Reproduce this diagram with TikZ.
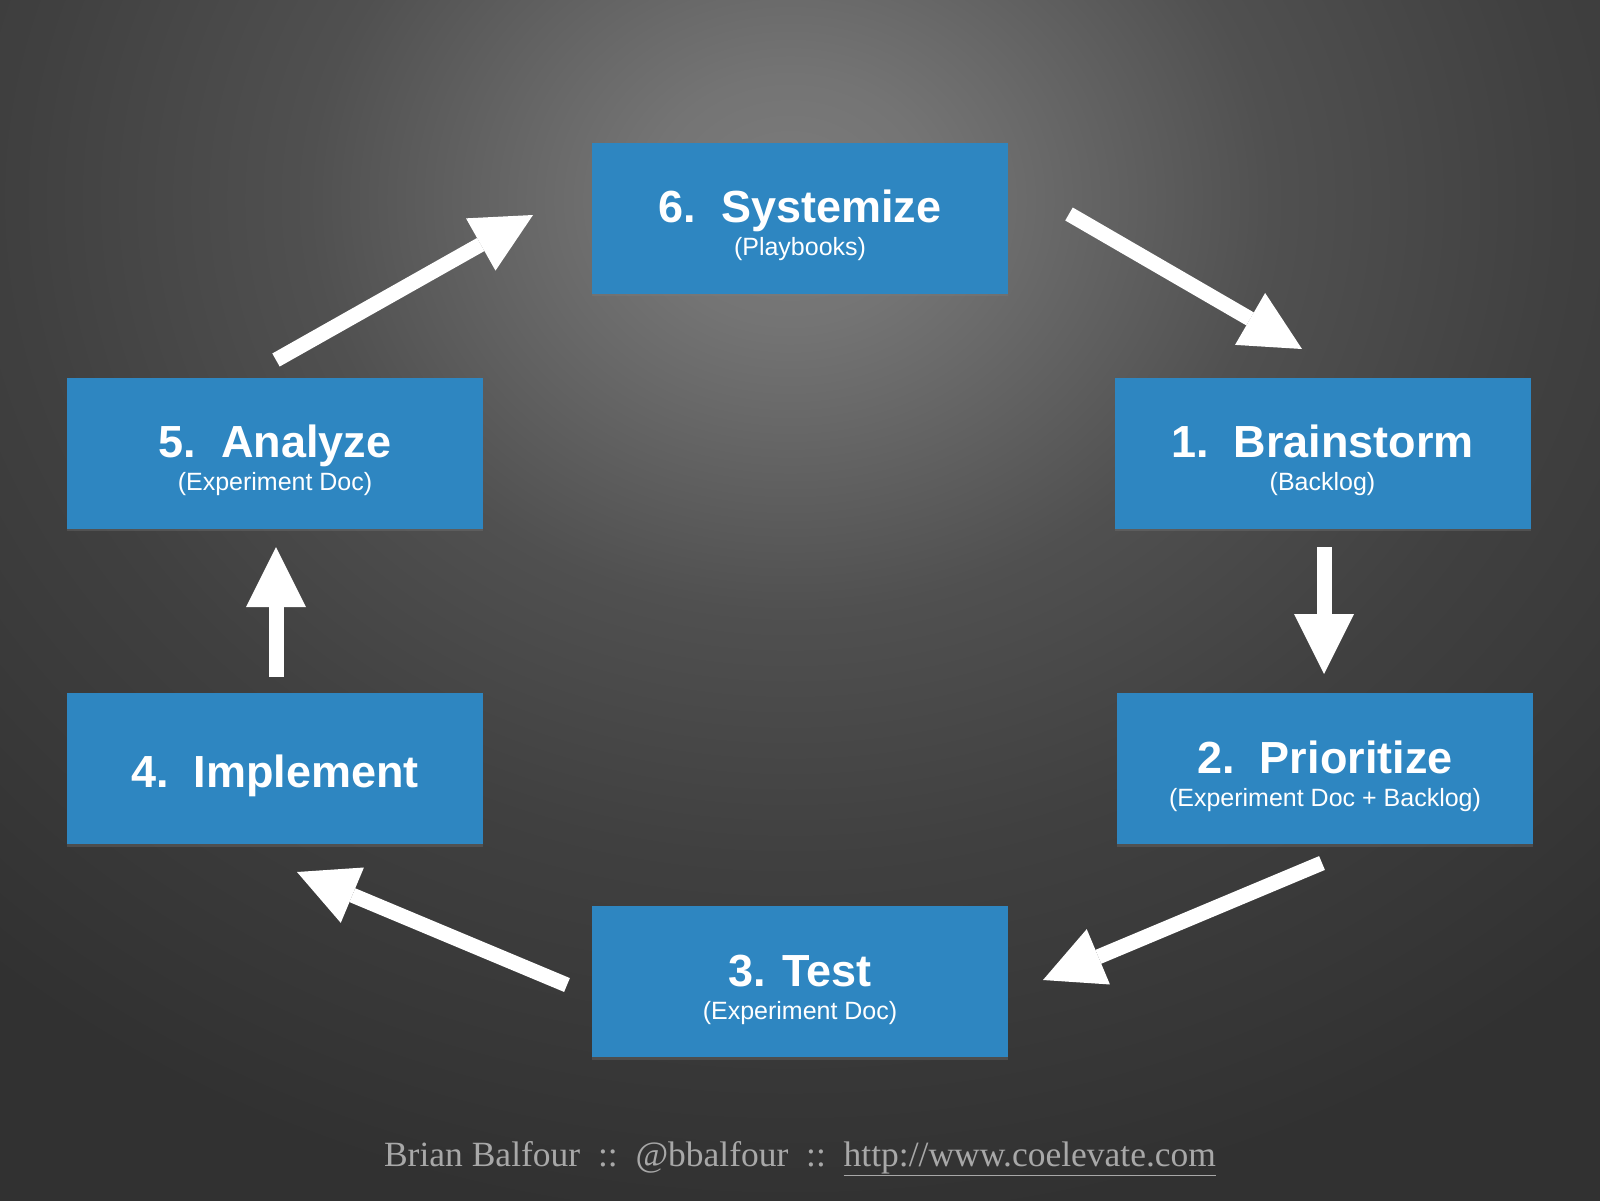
\documentclass[tikz,border=0pt]{standalone}
\usepackage{fontspec}
\setmainfont{Liberation Sans}
\newfontfamily\footfont{Liberation Serif}
\usetikzlibrary{arrows.meta,shadows}
\definecolor{boxblue}{RGB}{46,134,193}
\definecolor{footgray}{RGB}{168,168,168}
\definecolor{bgzero}{RGB}{124,124,124}
\definecolor{bgone}{RGB}{116,116,116}
\definecolor{bgtwo}{RGB}{106,106,106}
\definecolor{bgthree}{RGB}{80,80,80}
\definecolor{bgfive}{RGB}{64,64,64}
\definecolor{bgfour}{RGB}{49,49,49}
\pgfdeclareradialshading{bgshade}{\pgfpoint{0bp}{0bp}}{color(0bp)=(bgzero); color(6bp)=(bgone); color(10bp)=(bgtwo); color(20bp)=(bgthree); color(32bp)=(bgfive); color(50bp)=(bgfour)}
\newcommand\titlef{\fontsize{45}{54}\selectfont\bfseries}
\newcommand\subf{\fontsize{25}{30}\selectfont}
\newcommand\twoline[2]{\vbox to 151pt{\hsize=416pt\offinterlineskip\vskip80pt
  \hbox to\hsize{\hss\raisebox{0pt}[0pt][0pt]{\titlef #1}\hss}\vskip33pt
  \hbox to\hsize{\hss\raisebox{0pt}[0pt][0pt]{\subf #2}\hss}\vss}}
\newcommand\oneline[1]{\vbox to 151pt{\hsize=416pt\offinterlineskip\vskip94pt
  \hbox to\hsize{\hss\raisebox{0pt}[0pt][0pt]{\titlef #1}\hss}\vss}}
\begin{document}
\begin{tikzpicture}[x=1pt,y=-1pt,
  stepbox/.style={fill=boxblue, inner sep=0pt, outer sep=0pt, text=white,
    minimum width=416pt, minimum height=151pt,
    drop shadow={shadow xshift=0pt, shadow yshift=-2.5pt, opacity=0.3}},
  flowarrow/.style={draw=white, line width=15pt,
    -{Triangle[length=60pt,width=60pt,line width=0pt]}},
  footstyle/.style={text=footgray, font=\footfont\fontsize{35.5}{40}\selectfont, inner sep=0pt}]
\useasboundingbox (0,0) rectangle (1600,1200);
\fill[bgfour] (-20,-20) rectangle (1620,1220);
\begin{scope}
  \clip (-20,-20) rectangle (1620,1220);
  \pgftransformshift{\pgfpoint{790pt}{-200pt}}
  \pgftransformxscale{24}
  \pgftransformyscale{20.5}
  \pgflowlevelsynccm
  \pgfuseshading{bgshade}
\end{scope}
% boxes
\node[stepbox] (sys)   at (800,218)    {\twoline{6.\ \ Systemize}{(Playbooks)}};
\node[stepbox] (brain) at (1322.5,453) {\twoline{1.\ \ Brainstorm}{(Backlog)}};
\node[stepbox] (prio)  at (1325,768.5) {\twoline{2.\ \ Prioritize}{(Experiment Doc + Backlog)}};
\node[stepbox] (test)  at (800,981.5)  {\twoline{3. Test}{(Experiment Doc)}};
\node[stepbox] (impl)  at (275,768.5)  {\oneline{4.\ \ Implement}};
\node[stepbox] (anal)  at (275,453)    {\twoline{5.\ \ Analyze}{(Experiment Doc)}};
% arrow end points
\coordinate (s56) at (276,360);  \coordinate (e56) at (533,215);
\coordinate (s61) at (1069,214); \coordinate (e61) at (1302,349);
\coordinate (s12) at (1324,547); \coordinate (e12) at (1324,674);
\coordinate (s23) at (1322,863); \coordinate (e23) at (1043,980);
\coordinate (s34) at (567,985);  \coordinate (e34) at (297,872);
\coordinate (s45) at (276,677);  \coordinate (e45) at (276,547);
\draw[flowarrow] (s56) -- (e56);
\draw[flowarrow] (s61) -- (e61);
\draw[flowarrow] (s12) -- (e12);
\draw[flowarrow] (s23) -- (e23);
\draw[flowarrow] (s34) -- (e34);
\draw[flowarrow] (s45) -- (e45);
% footer
\node[footstyle, anchor=base] (foot) at (800,1166)
  {Brian Balfour\ \ ::\ \ @bbalfour\ \ ::\ \ \underline{http://www.coelevate.com}};
\end{tikzpicture}
\end{document}
